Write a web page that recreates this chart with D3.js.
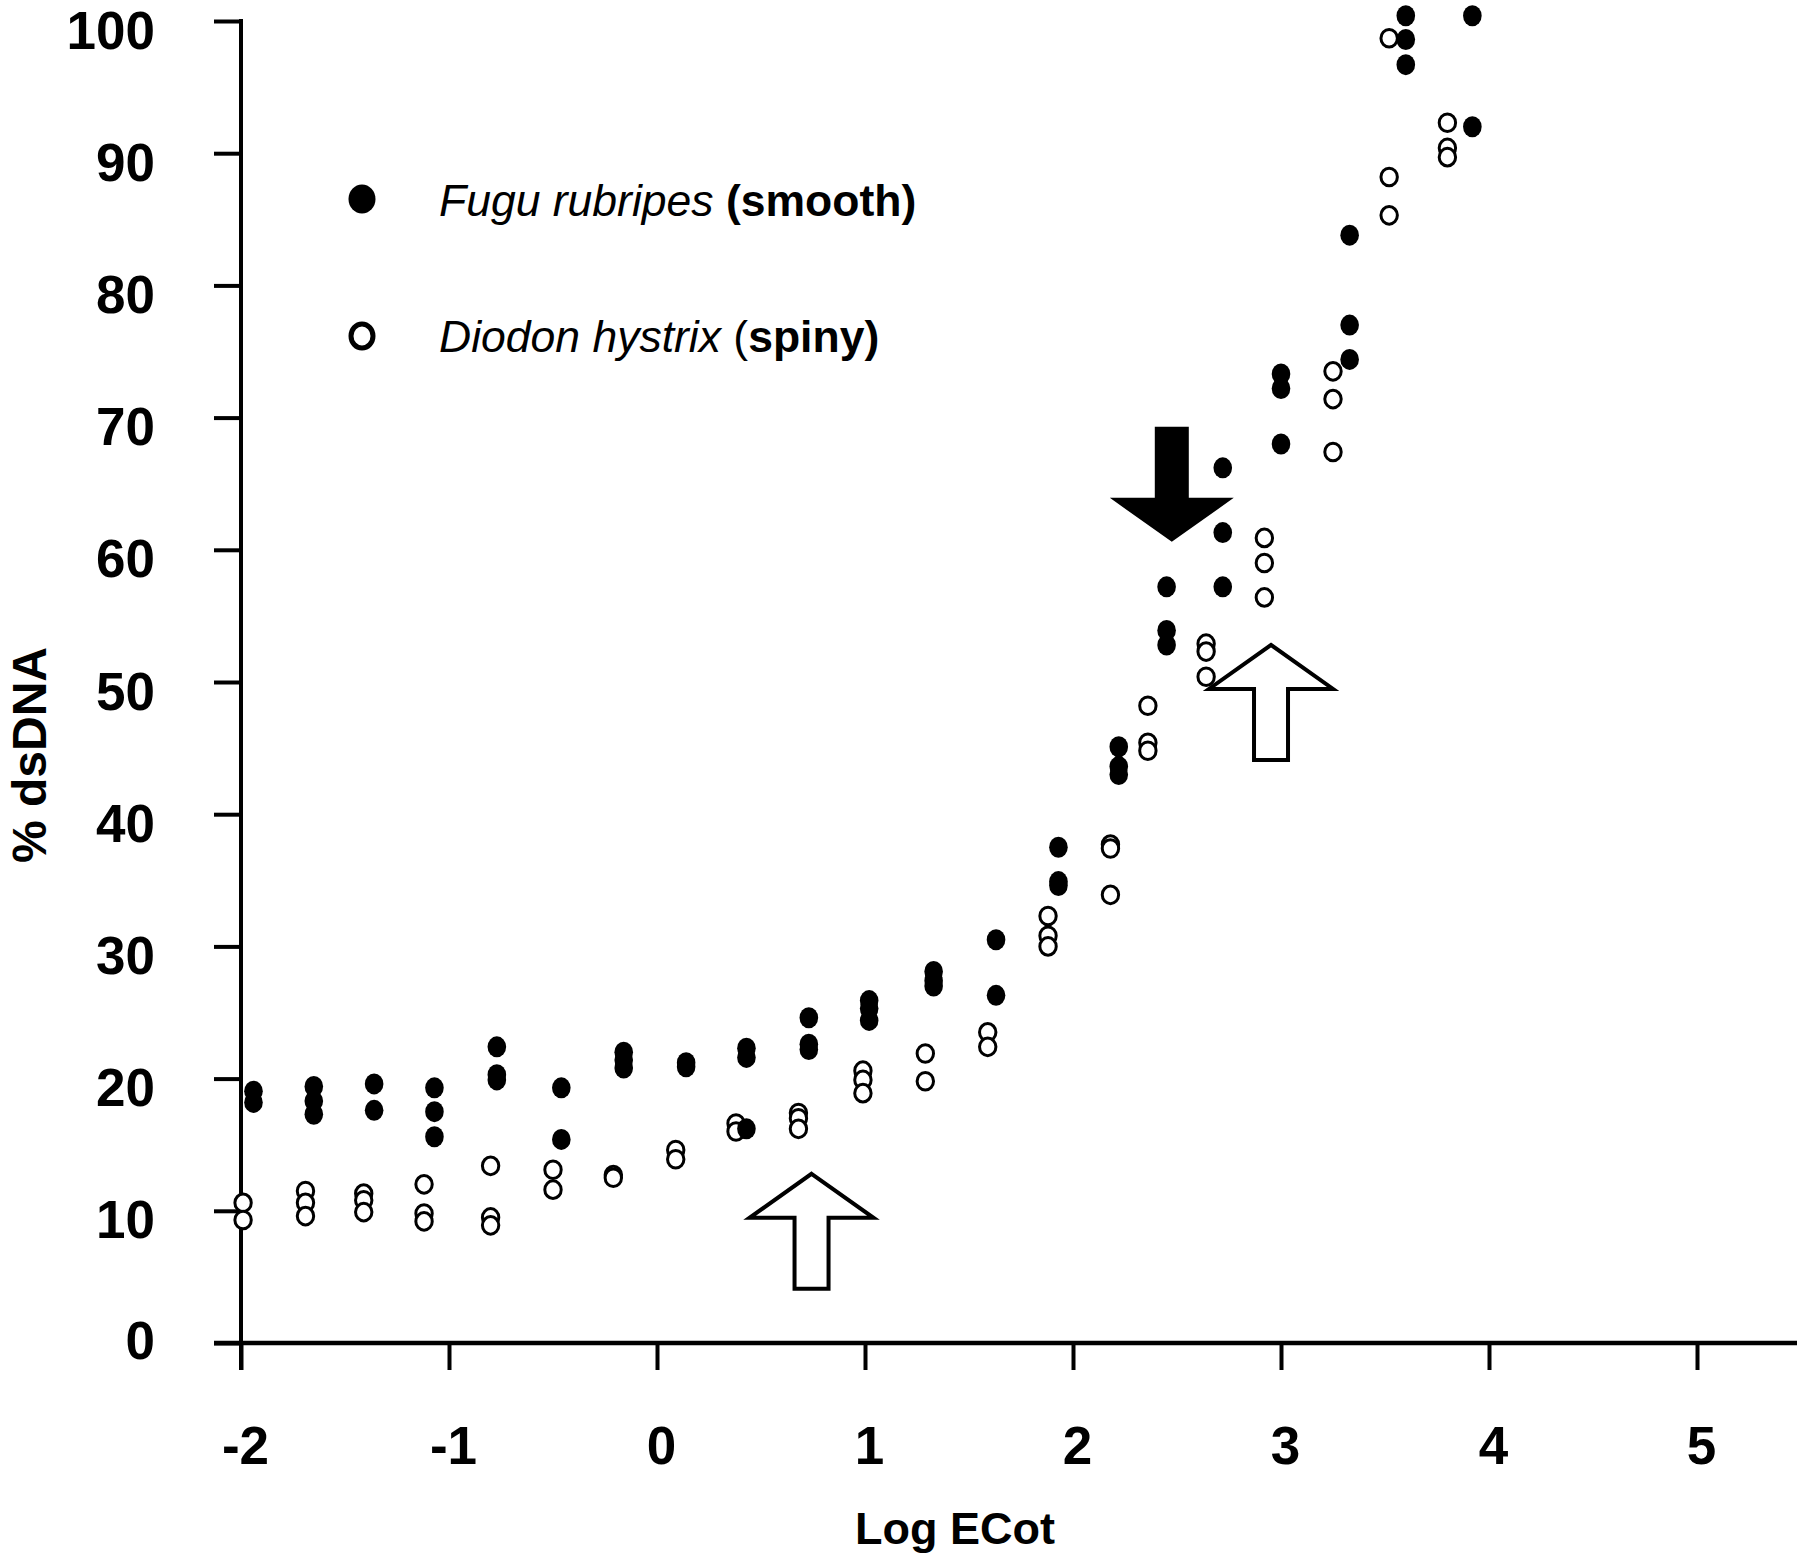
<!DOCTYPE html>
<html>
<head>
<meta charset="utf-8">
<script src="https://cdn.jsdelivr.net/npm/d3@7/dist/d3.min.js"></script>
<style>
  body { margin: 0; background: #fff; }
  svg { display: block; }
</style>
</head>
<body>
<div id="canvas"></div>
<script>
"use strict"

/***********************************
 CONFIGURATION
************************************/
let svgWidth = 1800;
let svgHeight = 1558;
let fontFamily = "'Liberation Sans', Arial, Helvetica, sans-serif";

/***********************************
 DATA (log ECot columns, % dsDNA replicates)
************************************/
let xTicks = [-2, -1, 0, 1, 2, 3, 4, 5];
let yTicks = [0, 10, 20, 30, 40, 50, 60, 70, 80, 90, 100];

// Fugu rubripes (smooth) - filled symbols
let fuguLogEcot = [-1.94, -1.65, -1.36, -1.07, -0.77, -0.46, -0.16, 0.14, 0.43, 0.73, 1.02,
    1.33, 1.63, 1.93, 2.22, 2.45, 2.72, 3.00, 3.33, 3.60, 3.92];
let fuguDsDNA = [
    [19.05, 18.2], [19.4, 18.3, 17.3], [19.6, 17.6], [19.3, 17.5, 15.6], [22.4, 20.3, 19.9],
    [19.3, 15.4], [22.0, 21.4, 20.8], [21.2, 20.9], [22.3, 21.6, 16.2], [24.6, 22.6, 22.2],
    [25.9, 25.3, 24.4], [28.1, 27.4, 27.0], [30.5, 26.3], [37.5, 34.9, 34.6], [45.1, 43.6, 43.0],
    [57.2, 53.9, 52.8], [66.2, 61.3, 57.2], [73.3, 72.2, 68.0], [83.8, 77.0, 74.4],
    [100.4, 98.6, 96.7], [100.4, 92.0]
];

// Diodon hystrix (spiny) - open symbols
let diodonLogEcot = [-1.99, -1.69, -1.41, -1.12, -0.80, -0.50, -0.21, 0.09, 0.38, 0.68, 0.99,
    1.29, 1.59, 1.88, 2.18, 2.36, 2.64, 2.92, 3.25, 3.52, 3.80];
let diodonDsDNA = [
    [10.6, 9.3], [11.5, 10.6, 9.6], [11.3, 10.8, 9.9], [12.0, 9.8, 9.2], [13.4, 9.5, 8.9],
    [13.1, 11.6], [12.7, 12.5], [14.6, 13.9], [16.6, 16.0], [17.4, 17.0, 16.2],
    [20.6, 19.9, 18.9], [21.9, 19.8], [23.5, 22.4], [32.3, 30.8, 30.0], [37.7, 37.4, 33.9],
    [48.2, 45.4, 44.8], [52.9, 52.3, 50.4], [60.9, 59.0, 56.4], [73.5, 71.4, 67.4],
    [98.7, 88.2, 85.3], [92.3, 90.4, 89.7]
];

// Arrow annotations: tip position in data units
let arrowTips = [
    { x: 2.475, y: 60.6, dir: "down", filled: true },
    { x: 2.952, y: 52.8, dir: "up", filled: false },
    { x: 0.743, y: 12.8, dir: "up", filled: false }
];

/***********************************
 SVG
************************************/
let svg = d3.select("#canvas")
    .append("svg")
    .attr("width", svgWidth)
    .attr("height", svgHeight)
    .style("font-family", fontFamily);

svg.append("rect")
    .attr("width", svgWidth)
    .attr("height", svgHeight)
    .attr("fill", "#fff");

/***********************************
 SCALES
************************************/
let xScale = d3.scaleLinear()
    .domain([-2, 5])
    .range([241, 1697]);

let yScale = d3.scaleLinear()
    .domain([0, 100])
    .range([1343, 21]);

/***********************************
 AXES
************************************/
let tickLen = 27;

let xAxis = d3.axisBottom(xScale)
    .tickValues(xTicks)
    .tickFormat(d => String(d))
    .tickSize(tickLen)
    .tickPadding(56);

let yAxis = d3.axisLeft(yScale)
    .tickValues(yTicks)
    .tickSize(tickLen)
    .tickPadding(59);

let gx = svg.append("g")
    .attr("transform", `translate(0, ${yScale(0)})`)
    .call(xAxis);

let gy = svg.append("g")
    .attr("transform", `translate(${xScale(-2)}, 0)`)
    .call(yAxis);

[gx, gy].forEach(g => {
    g.select(".domain").remove();
    g.selectAll(".tick line")
        .attr("stroke", "#000")
        .attr("stroke-width", 4);
    g.selectAll(".tick text")
        .attr("fill", "#000")
        .attr("font-family", fontFamily)
        .attr("font-weight", "bold")
        .attr("font-size", 53);
});
gx.selectAll(".tick text").attr("dx", 4);
gy.selectAll(".tick text").attr("dy", d => d === 0 ? "0.3em" : "0.51em");

// axis lines
svg.append("line")
    .attr("x1", xScale(-2) - tickLen)
    .attr("x2", 1797)
    .attr("y1", yScale(0))
    .attr("y2", yScale(0))
    .attr("stroke", "#000")
    .attr("stroke-width", 4.5);

svg.append("line")
    .attr("x1", xScale(-2))
    .attr("x2", xScale(-2))
    .attr("y1", yScale(100) - 2)
    .attr("y2", yScale(0) + tickLen)
    .attr("stroke", "#000")
    .attr("stroke-width", 4);

/***********************************
 POINTS
************************************/
let fuguPoints = fuguLogEcot.flatMap((x, i) => fuguDsDNA[i].map(y => ({ x, y })));
let diodonPoints = diodonLogEcot.flatMap((x, i) => diodonDsDNA[i].map(y => ({ x, y })));

svg.append("g")
    .selectAll("ellipse")
    .data(diodonPoints)
    .join("ellipse")
    .attr("cx", d => xScale(d.x))
    .attr("cy", d => yScale(d.y))
    .attr("rx", 8.2)
    .attr("ry", 8.8)
    .attr("fill", "#fff")
    .attr("stroke", "#000")
    .attr("stroke-width", 3);

svg.append("g")
    .selectAll("ellipse")
    .data(fuguPoints)
    .join("ellipse")
    .attr("cx", d => xScale(d.x))
    .attr("cy", d => yScale(d.y))
    .attr("rx", 9.3)
    .attr("ry", 10.5)
    .attr("fill", "#000");

/***********************************
 ARROWS
************************************/
let headH = 44, headHalf = 62, shaftHalf = 17, arrowLen = 115;

function arrowPath(d) {
    let tx = xScale(d.x), ty = yScale(d.y);
    let s = d.dir === "up" ? 1 : -1; // up: body below tip
    let pts = [
        [0, 0],
        [headHalf, headH],
        [shaftHalf, headH],
        [shaftHalf, arrowLen],
        [-shaftHalf, arrowLen],
        [-shaftHalf, headH],
        [-headHalf, headH]
    ];
    return "M" + pts.map(p => `${tx + p[0]},${ty + s * p[1]}`).join("L") + "Z";
}

svg.append("g")
    .selectAll("path")
    .data(arrowTips)
    .join("path")
    .attr("d", arrowPath)
    .attr("fill", d => d.filled ? "#000" : "#fff")
    .attr("stroke", "#000")
    .attr("stroke-width", d => d.filled ? 0 : 4)
    .attr("stroke-linejoin", "miter");

/***********************************
 LEGEND
************************************/
let legend = svg.append("g");

legend.append("ellipse")
    .attr("cx", 362).attr("cy", 199).attr("rx", 13.5).attr("ry", 14.5)
    .attr("fill", "#000");

legend.append("ellipse")
    .attr("cx", 362).attr("cy", 336).attr("rx", 11).attr("ry", 12)
    .attr("fill", "#fff").attr("stroke", "#000").attr("stroke-width", 5);

let t1 = legend.append("text")
    .attr("x", 439).attr("y", 216)
    .attr("font-size", 44.5);
t1.append("tspan").attr("font-style", "italic").text("Fugu rubripes ");
t1.append("tspan").attr("font-weight", "bold").text("(smooth)");

let t2 = legend.append("text")
    .attr("x", 439).attr("y", 352)
    .attr("font-size", 44.5);
t2.append("tspan").attr("font-style", "italic").text("Diodon hystrix ");
t2.append("tspan").text("(");
t2.append("tspan").attr("font-weight", "bold").text("spiny)");

/***********************************
 AXIS TITLES
************************************/
svg.append("text")
    .attr("x", 955)
    .attr("y", 1544)
    .attr("text-anchor", "middle")
    .attr("font-weight", "bold")
    .attr("font-size", 45)
    .text("Log ECot");

svg.append("text")
    .attr("transform", "translate(46, 755) rotate(-90)")
    .attr("text-anchor", "middle")
    .attr("font-weight", "bold")
    .attr("font-size", 48)
    .text("% dsDNA");
</script>
</body>
</html>
